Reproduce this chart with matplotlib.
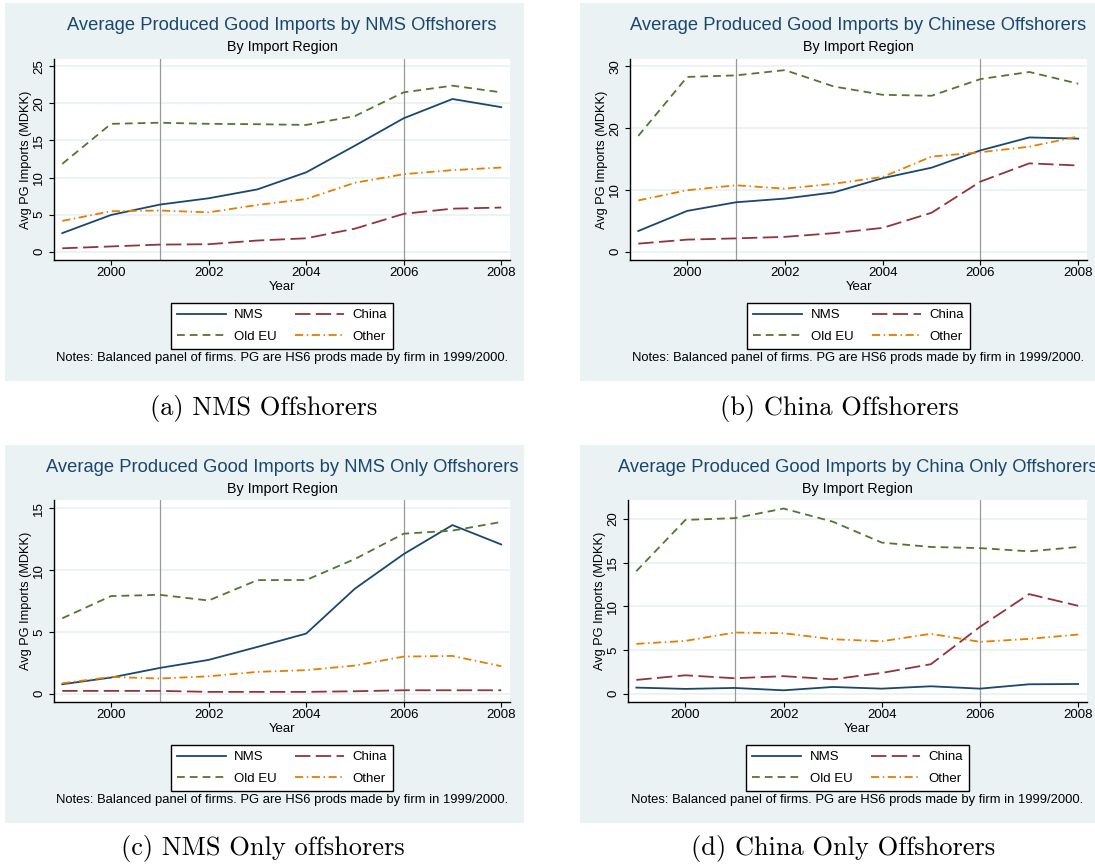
import numpy as np
import matplotlib
matplotlib.use("Agg")
import matplotlib.pyplot as plt
from matplotlib.patches import Rectangle
from matplotlib.lines import Line2D

W, H = 1095, 867

years = [1999, 2000, 2001, 2002, 2003, 2004, 2005, 2006, 2007, 2008]
series_names = ["NMS", "China", "Old EU", "Other"]

# (a) NMS offshorers
nms_a = [2.5, 4.95, 6.35, 7.2, 8.4, 10.7, 14.3, 18.0, 20.6, 19.5]
china_a = [0.45, 0.7, 0.95, 1.0, 1.5, 1.8, 3.1, 5.1, 5.8, 5.95]
oldeu_a = [11.85, 17.25, 17.4, 17.25, 17.2, 17.1, 18.3, 21.5, 22.4, 21.5]
other_a = [4.15, 5.45, 5.55, 5.3, 6.3, 7.1, 9.3, 10.45, 11.0, 11.35]

# (b) China offshorers
nms_b = [3.35, 6.6, 8.0, 8.6, 9.6, 11.9, 13.6, 16.4, 18.5, 18.3]
china_b = [1.3, 1.95, 2.15, 2.4, 3.0, 3.85, 6.3, 11.35, 14.3, 13.95]
oldeu_b = [18.75, 28.3, 28.55, 29.4, 26.75, 25.4, 25.25, 27.95, 29.1, 27.2]
other_b = [8.3, 9.95, 10.75, 10.2, 11.0, 12.1, 15.4, 16.1, 17.0, 18.65]

# (c) NMS only offshorers
nms_c = [0.76, 1.3, 2.08, 2.73, 3.78, 4.86, 8.5, 11.3, 13.65, 12.08]
china_c = [0.22, 0.22, 0.22, 0.14, 0.14, 0.14, 0.19, 0.27, 0.27, 0.27]
oldeu_c = [6.1, 7.9, 8.0, 7.54, 9.19, 9.2, 10.9, 12.95, 13.2, 13.9]
other_c = [0.84, 1.35, 1.22, 1.4, 1.76, 1.9, 2.27, 3.0, 3.05, 2.22]

# (d) China only offshorers
nms_d = [0.69, 0.54, 0.65, 0.38, 0.76, 0.57, 0.84, 0.57, 1.07, 1.1]
china_d = [1.57, 2.1, 1.76, 2.0, 1.64, 2.37, 3.37, 7.65, 11.4, 10.06]
oldeu_d = [14.03, 19.9, 20.1, 21.2, 19.7, 17.3, 16.8, 16.67, 16.3, 16.8]
other_d = [5.7, 6.04, 7.0, 6.92, 6.23, 6.0, 6.85, 5.93, 6.27, 6.77]

titles = [
    "Average Produced Good Imports by NMS Offshorers",
    "Average Produced Good Imports by Chinese Offshorers",
    "Average Produced Good Imports by NMS Only Offshorers",
    "Average Produced Good Imports by China Only Offshorers",
]
captions = ["(a) NMS Offshorers", "(b) China Offshorers",
            "(c) NMS Only offshorers", "(d) China Only Offshorers"]
yticks_list = [[0, 5, 10, 15, 20, 25], [0, 10, 20, 30], [0, 5, 10, 15], [0, 5, 10, 15, 20]]
ylims = [(-1.13, 26.0), (-1.35, 31.2), (-0.68, 15.68), (-0.96, 22.18)]
xticks = [2000, 2002, 2004, 2006, 2008]
event_years = [2001, 2006]
subtitle = "By Import Region"
note = "Notes: Balanced panel of firms. PG are HS6 prods made by firm in 1999/2000."

data = [
    [nms_a, china_a, oldeu_a, other_a],
    [nms_b, china_b, oldeu_b, other_b],
    [nms_c, china_c, oldeu_c, other_c],
    [nms_d, china_d, oldeu_d, other_d],
]

# stata s2color look
colors = ["#1a476f", "#90353b", "#55752f", "#e37e00"]
styles = ["-", (0, (8.5, 3.0)), (0, (4.3, 2.8)), (0, (4.5, 2.0, 0.8, 2.0))]
bg = "#eaf2f3"
navy = "#1a476f"
sans = "Liberation Sans"

# pixel boxes: background (l, t, r, b) and plot area (l, t, r, b)
bg_boxes = [(5, 3, 524, 381), (580, 3, 1100, 381), (5, 445, 524, 823), (580, 445, 1100, 823)]
ax_boxes = [(54, 59, 510, 260), (630, 59, 1087, 260), (54, 500, 510, 702), (628, 500, 1087, 702)]
cap_pos = [(264, 408), (839, 408), (263, 848), (843, 848)]

fig = plt.figure(figsize=(W / 100, H / 100), dpi=100)
fig.patch.set_facecolor("white")


def fx(x):
    return x / W


def fy(y):
    return 1 - y / H


for i in range(4):
    bl, bt, br, bb = bg_boxes[i]
    fig.patches.append(Rectangle((fx(bl), fy(bb)), (br - bl) / W, (bb - bt) / H,
                                 transform=fig.transFigure, facecolor=bg,
                                 edgecolor="none", zorder=-10))
    l, t, r, b = ax_boxes[i]
    ax = fig.add_axes([fx(l), fy(b), (r - l) / W, (b - t) / H])
    ax.set_facecolor("white")
    for yt in yticks_list[i]:
        ax.axhline(yt, color=bg, lw=1.3, zorder=1)
    for ev in event_years:
        ax.axvline(ev, color="#9a9a9a", lw=0.9, zorder=2)
    for k in range(4):
        ax.plot(years, data[i][k], color=colors[k], linestyle=styles[k], lw=1.3,
                zorder=3)
    ax.set_xlim(1998.83, 2008.18)
    ax.set_ylim(*ylims[i])
    ax.set_xticks(xticks)
    ax.set_yticks(yticks_list[i])
    ax.spines["top"].set_visible(False)
    ax.spines["right"].set_visible(False)
    ax.spines["left"].set_linewidth(1.0)
    ax.spines["bottom"].set_linewidth(1.0)
    ax.tick_params(axis="both", direction="out", length=3.6, width=0.8,
                   labelsize=9.5)
    ax.tick_params(axis="x", pad=1.5)
    ax.tick_params(axis="y", pad=7.0)
    for lbl in ax.get_xticklabels() + ax.get_yticklabels():
        lbl.set_fontfamily(sans)
    plt.setp(ax.get_yticklabels(), rotation=90, ha="center", va="center")

    cx = (l + r) / 2
    fig.text(fx(cx), fy(t - 33), titles[i], color=navy, fontsize=13.2,
             family=sans, ha="center", va="center")
    fig.text(fx(cx), fy(t - 11.5), subtitle, color="black", fontsize=10.3,
             family=sans, ha="center", va="center")
    fig.text(fx(l - 28), fy((t + b) / 2), "Avg PG Imports (MDKK)", fontsize=9.2,
             family=sans, rotation=90, ha="center", va="center")
    fig.text(fx(cx), fy(b + 27), "Year", fontsize=9.5, family=sans,
             ha="center", va="center")
    fig.text(fx(cx), fy(b + 98), note, fontsize=9.4, family=sans,
             ha="center", va="center")

    handles = [Line2D([], [], color=colors[k], linestyle=styles[k], lw=1.3)
               for k in range(4)]
    # column-wise fill: NMS / Old EU, then China / Other
    order = [0, 2, 1, 3]
    leg = fig.legend([handles[k] for k in order], [series_names[k] for k in order],
                     loc="upper center", bbox_to_anchor=(fx(cx), fy(b + 43)),
                     ncol=2, prop={"family": sans, "size": 9.5},
                     frameon=True, fancybox=False, edgecolor="black",
                     facecolor="white", framealpha=1, handlelength=3.7,
                     handletextpad=0.65, columnspacing=1.4, labelspacing=0.7,
                     borderpad=0.45, borderaxespad=0)
    leg.get_frame().set_linewidth(1.0)

    capx, capy = cap_pos[i]
    fig.text(fx(capx), fy(capy), captions[i], fontsize=19, family="cmr10",
             ha="center", va="center")

fig.savefig("out.png", dpi=100)
